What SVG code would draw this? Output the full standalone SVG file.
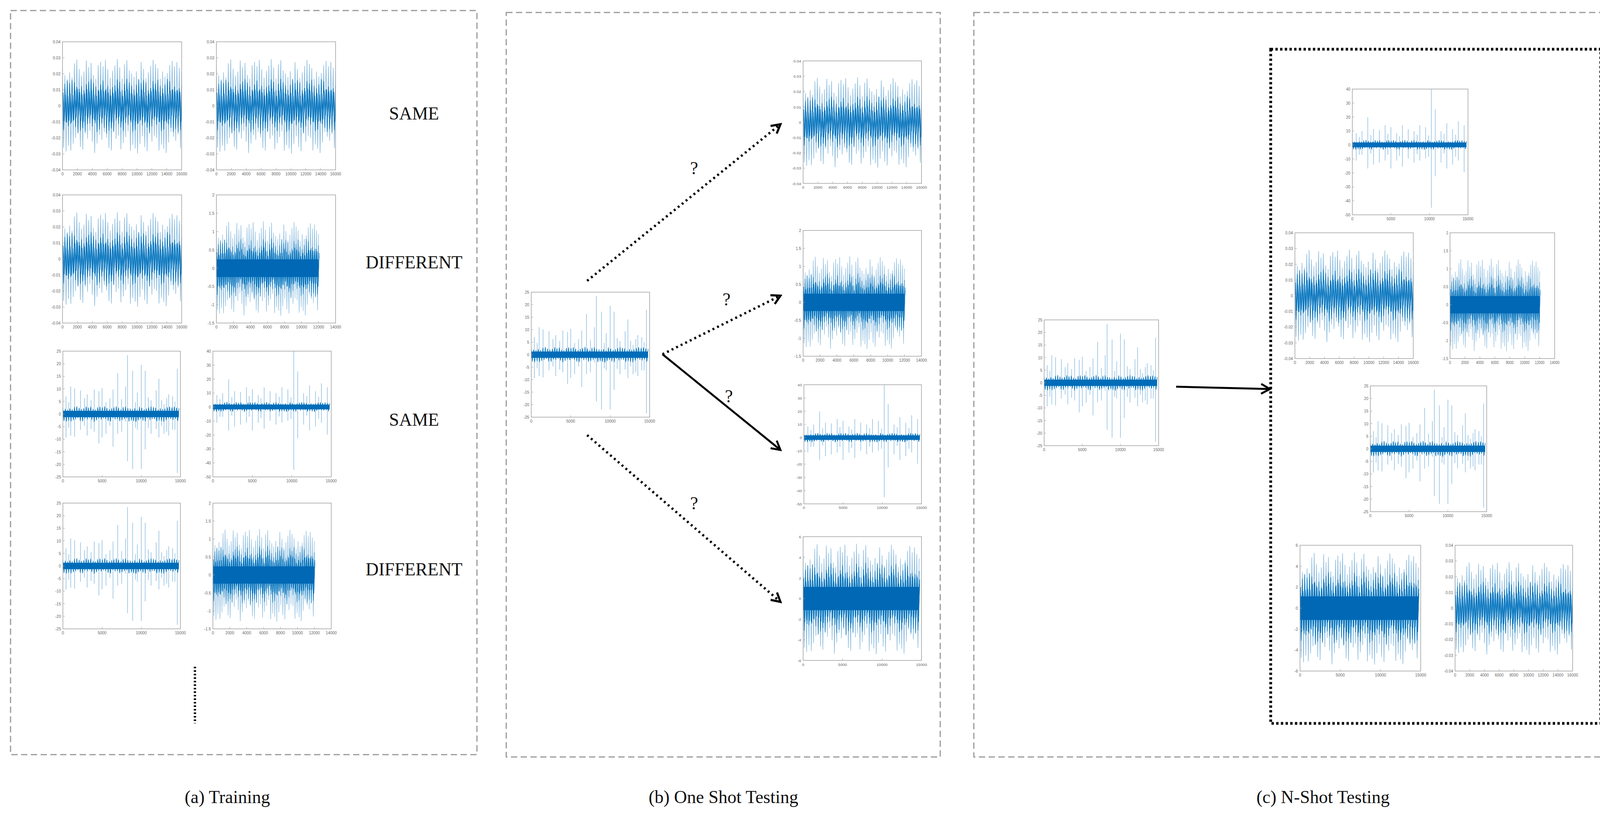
<svg xmlns="http://www.w3.org/2000/svg" xmlns:xlink="http://www.w3.org/1999/xlink" width="4208" height="2084" viewBox="0 0 4208 2084">
<style>
.panel{fill:none;stroke:#9a9a9a;stroke-width:3;stroke-dasharray:16 9}
.frame{fill:none;stroke:#a0a0a0;stroke-width:1.5;vector-effect:non-scaling-stroke}
.tick{stroke:#a0a0a0;stroke-width:1;fill:none;vector-effect:non-scaling-stroke}
.lt{fill:none;stroke:#86b9de;stroke-width:1.4;vector-effect:non-scaling-stroke}
.dk{fill:none;stroke:#0072bd;stroke-width:1.4;vector-effect:non-scaling-stroke}
.band{fill:#0068b5}
.tk{font-family:"Liberation Sans",Arial,sans-serif;font-size:10px;fill:#666}
.yl{text-anchor:end}
.xl{text-anchor:middle}
.lbl{font-family:"Liberation Serif","DejaVu Serif",serif;font-size:46px;fill:#111;text-anchor:middle}
.cap{font-family:"Liberation Serif","DejaVu Serif",serif;font-size:46px;fill:#111;text-anchor:middle}
.dot{fill:none;stroke:#000;stroke-width:6;stroke-dasharray:5 8}
.sol{fill:none;stroke:#000;stroke-width:5}
</style>
<defs>
<marker id="ah" viewBox="0 0 12 12" refX="10" refY="6" markerWidth="5" markerHeight="5" orient="auto" markerUnits="strokeWidth"><path d="M1,1 L10,6 L1,11" fill="none" stroke="#000" stroke-width="2.2"/></marker>
<marker id="ah2" viewBox="0 0 12 12" refX="10" refY="6" markerWidth="6" markerHeight="6" orient="auto" markerUnits="strokeWidth"><path d="M1,1 L10,6 L1,11" fill="none" stroke="#000" stroke-width="2"/></marker>
<clipPath id="cb"><rect x="0" y="0" width="300" height="320"/></clipPath>
<path id="zig" d="M0,-95 L3,110 6,-80 9,120 12,-70 15,105 18,-88 21,118 24,-75 27,100 30,-112 33,84 36,-122 39,68 42,-97 45,108 48,-79 51,115 54,-90 57,73 60,-119 63,86 66,-102 69,66 72,-113 75,94 78,-81 81,124 84,-71 87,99 90,-107 93,77 96,-116 99,89 102,-104 105,69 108,-121 111,83 114,-96 117,111 120,-74 123,117 126,-92 129,65 132,-106 135,87 138,-123 141,78 144,-101 147,114 150,-72 153,98 156,-109 159,82 162,-120 165,67 168,-93 171,118 174,-85 177,103 180,-76 183,112 186,-91 189,125 192,-70 195,100 198,-115 201,80 204,-97 207,108 210,-73 213,119 216,-88 219,66 222,-105 225,94 228,-121 231,79 234,-110 237,84 240,-99 243,117 246,-71 249,102 252,-90 255,113 258,-77 261,124 264,-86 267,96 270,-107 273,69 276,-118 279,81 282,-104 285,92 288,-115 291,75 294,-100 297,111 300,-90"/>
<path id="spk" d="M8,-45V60 M20,-70V55 M30,-65V58 M45,-60V40 M62,-50V55 M80,-62V45 M92,-58V75 M100,-66V60 M110,-30V50 M128,-62V83 M140,-104V50 M160,-70V20 M165,-150V120 M178,-110V140 M190,-55V40 M200,-125V140 M210,-110V90 M225,-35V50 M238,-60V38 M245,-90V60 M258,-25V50 M270,-50V55 M280,-45V40 M292,-115V150 M15,-30V35 M55,-40V30 M72,-35V38 M120,-40V30 M150,-38V45 M185,-30V35 M218,-42V36 M252,-35V30 M265,-40V45 M286,-32V40"/>
<path id="spk2" d="M10,-30V40 M25,-35V25 M40,-70V60 M55,-40V50 M70,-38V45 M85,-50V40 M100,-45V60 M115,-30V40 M130,-50V55 M145,-40V35 M160,-35V45 M175,-50V40 M190,-45V35 M205,-142V160 M215,-90V80 M230,-35V45 M245,-55V60 M260,-40V50 M275,-60V40 M290,-50V70 M18,-20V25 M48,-25V22 M92,-28V25 M122,-22V28 M168,-26V24 M198,-24V30 M238,-28V22 M268,-26V30"/>
<g id="pA">
<g clip-path="url(#cb)"><g transform="translate(0,160)"><use href="#zig" class="lt" transform="scale(1,0.95)"/><use href="#zig" class="dk" transform="translate(300,0) scale(-1,0.55)"/><use href="#zig" class="dk" transform="translate(1.5,0) scale(1,0.35)"/></g></g>
<rect class="frame" x="0" y="0" width="300" height="320"/>
<path class="tick" d="M0,40h5M0,80h5M0,120h5M0,160h5M0,200h5M0,240h5M0,280h5M37.5,320v-5M75,320v-5M112.5,320v-5M150,320v-5M187.5,320v-5M225,320v-5M262.5,320v-5"/>
<g class="tk yl"><text x="-5" y="4">0.04</text><text x="-5" y="44">0.03</text><text x="-5" y="84">0.02</text><text x="-5" y="124">0.01</text><text x="-5" y="164">0</text><text x="-5" y="204">-0.01</text><text x="-5" y="244">-0.02</text><text x="-5" y="284">-0.03</text><text x="-5" y="324">-0.04</text></g>
<g class="tk xl"><text x="0" y="334">0</text><text x="37.5" y="334">2000</text><text x="75" y="334">4000</text><text x="112.5" y="334">6000</text><text x="150" y="334">8000</text><text x="187.5" y="334">10000</text><text x="225" y="334">12000</text><text x="262.5" y="334">14000</text><text x="300" y="334">16000</text></g>
</g>
<g id="pB">
<g clip-path="url(#cb)"><g transform="translate(0,183)"><use href="#zig" class="lt" transform="scale(0.857,0.95)"/><use href="#zig" class="dk" transform="translate(257,0) scale(-0.857,0.6)"/><use href="#zig" class="dk" transform="translate(1.5,0) scale(0.857,0.42)"/><use href="#zig" class="dk" transform="translate(258.5,0) scale(-0.857,0.32)"/><rect class="band" x="0" y="-22" width="257" height="44"/></g></g>
<rect class="frame" x="0" y="0" width="300" height="320"/>
<path class="tick" d="M0,45.7h5M0,91.4h5M0,137.1h5M0,182.9h5M0,228.6h5M0,274.3h5M42.9,320v-5M85.7,320v-5M128.6,320v-5M171.4,320v-5M214.3,320v-5M257.1,320v-5"/>
<g class="tk yl"><text x="-5" y="4">2</text><text x="-5" y="49.7">1.5</text><text x="-5" y="95.4">1</text><text x="-5" y="141.1">0.5</text><text x="-5" y="186.9">0</text><text x="-5" y="232.6">-0.5</text><text x="-5" y="278.3">-1</text><text x="-5" y="324">-1.5</text></g>
<g class="tk xl"><text x="0" y="334">0</text><text x="42.9" y="334">2000</text><text x="85.7" y="334">4000</text><text x="128.6" y="334">6000</text><text x="171.4" y="334">8000</text><text x="214.3" y="334">10000</text><text x="257.1" y="334">12000</text><text x="300" y="334">14000</text></g>
</g>
<g id="pC">
<g clip-path="url(#cb)"><g transform="translate(0,160)"><use href="#spk" class="lt"/><rect class="band" x="0" y="-8" width="296" height="16"/><use href="#zig" class="dk" transform="scale(0.987,0.16)"/></g></g>
<rect class="frame" x="0" y="0" width="300" height="320"/>
<path class="tick" d="M0,32h5M0,64h5M0,96h5M0,128h5M0,160h5M0,192h5M0,224h5M0,256h5M0,288h5M100,320v-5M200,320v-5"/>
<g class="tk yl"><text x="-5" y="4">25</text><text x="-5" y="36">20</text><text x="-5" y="68">15</text><text x="-5" y="100">10</text><text x="-5" y="132">5</text><text x="-5" y="164">0</text><text x="-5" y="196">-5</text><text x="-5" y="228">-10</text><text x="-5" y="260">-15</text><text x="-5" y="292">-20</text><text x="-5" y="324">-25</text></g>
<g class="tk xl"><text x="0" y="334">0</text><text x="100" y="334">5000</text><text x="200" y="334">10000</text><text x="300" y="334">15000</text></g>
</g>
<g id="pC2">
<g clip-path="url(#cb)"><g transform="translate(0,142)"><use href="#spk2" class="lt"/><rect class="band" x="0" y="-6" width="296" height="12"/><use href="#zig" class="dk" transform="scale(0.987,0.1)"/></g></g>
<rect class="frame" x="0" y="0" width="300" height="320"/>
<path class="tick" d="M0,35.6h5M0,71.1h5M0,106.7h5M0,142.2h5M0,177.8h5M0,213.3h5M0,248.9h5M0,284.4h5M100,320v-5M200,320v-5"/>
<g class="tk yl"><text x="-5" y="4">40</text><text x="-5" y="39.6">30</text><text x="-5" y="75.1">20</text><text x="-5" y="110.7">10</text><text x="-5" y="146.2">0</text><text x="-5" y="181.8">-10</text><text x="-5" y="217.3">-20</text><text x="-5" y="252.9">-30</text><text x="-5" y="288.4">-40</text><text x="-5" y="324">-50</text></g>
<g class="tk xl"><text x="0" y="334">0</text><text x="100" y="334">5000</text><text x="200" y="334">10000</text><text x="300" y="334">15000</text></g>
</g>
<g id="pD">
<g clip-path="url(#cb)"><g transform="translate(0,160)"><use href="#zig" class="lt" transform="scale(0.98,1.15)"/><use href="#zig" class="dk" transform="translate(294,0) scale(-0.98,0.75)"/><use href="#zig" class="dk" transform="translate(1.5,0) scale(0.98,0.55)"/><use href="#zig" class="dk" transform="translate(295.5,0) scale(-0.98,0.4)"/><rect class="band" x="0" y="-30" width="294" height="60"/></g></g>
<rect class="frame" x="0" y="0" width="300" height="320"/>
<path class="tick" d="M0,53.3h5M0,106.7h5M0,160h5M0,213.3h5M0,266.7h5M100,320v-5M200,320v-5"/>
<g class="tk yl"><text x="-5" y="4">6</text><text x="-5" y="57.3">4</text><text x="-5" y="110.7">2</text><text x="-5" y="164">0</text><text x="-5" y="217.3">-2</text><text x="-5" y="270.7">-4</text><text x="-5" y="324">-6</text></g>
<g class="tk xl"><text x="0" y="334">0</text><text x="100" y="334">5000</text><text x="200" y="334">10000</text><text x="300" y="334">15000</text></g>
</g>
</defs>
<rect x="0" y="0" width="4208" height="2084" fill="#fff"/>

<g id="panel-a">
<rect class="panel" x="27" y="27" width="1194" height="1905"/>
<g id="a-r1c1"><use href="#pA" transform="translate(160,107) scale(1.017,1.025)"/></g>
<g id="a-r1c2"><use href="#pA" transform="translate(554,107) scale(1.017,1.025)"/></g>
<g id="a-r2c1"><use href="#pA" transform="translate(160,499) scale(1.017,1.025)"/></g>
<g id="a-r2c2"><use href="#pB" transform="translate(554,499) scale(1.017,1.025)"/></g>
<g id="a-r3c1"><use href="#pC" transform="translate(161,899) scale(1.003,1.006)"/></g>
<g id="a-r3c2"><use href="#pC2" transform="translate(545,899) scale(1.01,1.006)"/></g>
<g id="a-r4c1"><use href="#pC" transform="translate(161,1288) scale(1.003,1.006)"/></g>
<g id="a-r4c2"><use href="#pB" transform="translate(545,1288) scale(1.01,1.006)"/></g>
<text class="lbl" x="1060" y="306">SAME</text>
<text class="lbl" x="1060" y="687">DIFFERENT</text>
<text class="lbl" x="1060" y="1090">SAME</text>
<text class="lbl" x="1060" y="1473">DIFFERENT</text>
<line x1="499" y1="1707" x2="499" y2="1852" stroke="#000" stroke-width="6" stroke-dasharray="4 5"/>
</g>

<g id="panel-b">
<rect class="panel" x="1296" y="32" width="1111" height="1906"/>
<g id="b-query"><use href="#pC" transform="translate(1360,748) scale(1.01,1.0)"/></g>
<g id="b-1"><use href="#pA" transform="translate(2056,156) scale(1.01,0.98)"/></g>
<g id="b-2"><use href="#pB" transform="translate(2056,590) scale(1.01,1.006)"/></g>
<g id="b-3"><use href="#pC2" transform="translate(2058,985) scale(1.003,0.953)"/></g>
<g id="b-4"><use href="#pD" transform="translate(2056,1374) scale(1.01,0.99)"/></g>
</g>

<g id="panel-c">
<rect class="panel" x="2493" y="32" width="1699" height="1906"/>
<rect x="3253" y="126" width="845" height="1726" fill="none" stroke="#000" stroke-width="7" stroke-dasharray="6 6"/>
<g id="c-query"><use href="#pC" transform="translate(2673,819) scale(0.977,1.006)"/></g>
<g id="c-1"><use href="#pC2" transform="translate(3462,228) scale(0.987,1.006)"/></g>
<g id="c-2"><use href="#pA" transform="translate(3315,596) scale(1.01,1.006)"/></g>
<g id="c-3"><use href="#pB" transform="translate(3712,596) scale(0.893,1.006)"/></g>
<g id="c-4"><use href="#pC" transform="translate(3508,988) scale(0.993,1.006)"/></g>
<g id="c-5"><use href="#pD" transform="translate(3328,1396) scale(1.03,1.006)"/></g>
<g id="c-6"><use href="#pA" transform="translate(3725,1396) scale(1.003,1.006)"/></g>
</g>

<g id="connectors">
<line class="dot" x1="1503" y1="719" x2="1998" y2="318" marker-end="url(#ah)"/>
<line class="dot" x1="1696" y1="907" x2="1998" y2="757" marker-end="url(#ah)"/>
<line class="sol" x1="1696" y1="907" x2="1998" y2="1152" marker-end="url(#ah2)"/>
<line class="dot" x1="1503" y1="1114" x2="1998" y2="1541" marker-end="url(#ah)"/>
<line class="sol" x1="3011" y1="990" x2="3251" y2="996" stroke-width="4" marker-end="url(#ah2)"/>
</g>

<g id="labels">
<text class="lbl" x="1777" y="446">?</text>
<text class="lbl" x="1860" y="782">?</text>
<text class="lbl" x="1866" y="1030">?</text>
<text class="lbl" x="1777" y="1304">?</text>
<text class="cap" x="582" y="2056">(a) Training</text>
<text class="cap" x="1852" y="2056">(b) One Shot Testing</text>
<text class="cap" x="3387" y="2056">(c) N-Shot Testing</text>
</g>
</svg>
